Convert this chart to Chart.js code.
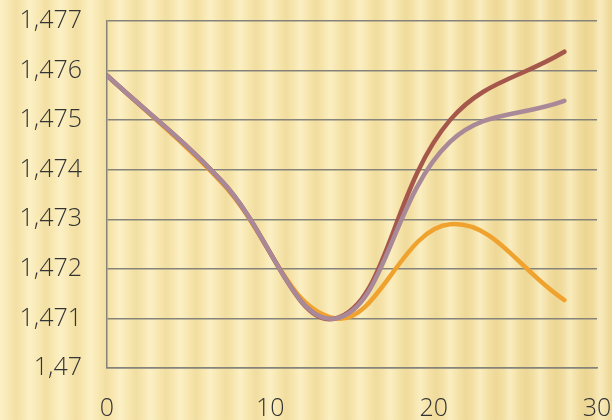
<!DOCTYPE html>
<html>
<head>
<meta charset="utf-8">
<script src="https://cdn.jsdelivr.net/npm/chart.js@4/dist/chart.umd.min.js"></script>
<style>
  html, body { margin: 0; padding: 0; overflow: hidden; }
  body {
    width: 612px; height: 420px;
    background:
      repeating-linear-gradient(90deg,
        rgba(255,248,215,0.55) 0px,
        rgba(255,248,215,0.0) 9px,
        rgba(215,185,100,0.18) 16px,
        rgba(255,248,215,0.0) 23px,
        rgba(255,248,215,0.55) 30px),
      linear-gradient(90deg, #F8E8B2 0%, #F6E4AA 60%, #F0DB9C 100%);
  }
  #wrap { position: absolute; left: 0; top: 0; width: 612px; height: 420px; }
</style>
</head>
<body>
<div id="wrap"><canvas id="c" width="612" height="420"></canvas></div>
<script>
const xValues = [0, 7, 14, 21, 28];
const orangeSeries = [1.4759, 1.47375, 1.4710, 1.4729, 1.47137];
const brownSeries  = [1.4759, 1.47378, 1.4710, 1.4750, 1.47638];
const mauveSeries  = [1.4759, 1.47378, 1.4710, 1.47456, 1.47539];
const yTickLabels = ['1,47', '1,471', '1,472', '1,473', '1,474', '1,475', '1,476', '1,477'];
const xTickLabels = ['0', '10', '20', '30'];

const toPts = (arr) => arr.map((v, i) => ({ x: xValues[i], y: v }));

const gridColor = '#85837a';
const tickFont = { family: 'Open Sans', size: 25, weight: 300 };

new Chart(document.getElementById('c'), {
  type: 'line',
  data: {
    datasets: [
      { data: toPts(orangeSeries), borderColor: '#F0A22E', borderWidth: 4.5, order: 2 },
      { data: toPts(brownSeries), borderColor: '#A5574C', borderWidth: 4.5, order: 1 },
      { data: toPts(mauveSeries), borderColor: '#A98898', borderWidth: 4.5, order: 0 }
    ]
  },
  options: {
    responsive: false,
    devicePixelRatio: 1,
    animation: false,
    layout: { padding: { top: 21, right: 15, left: 0, bottom: 0 } },
    elements: {
      point: { radius: 0, hoverRadius: 0 },
      line: { tension: 0.4, borderCapStyle: 'round', borderJoinStyle: 'round', fill: false }
    },
    plugins: { legend: { display: false }, tooltip: { enabled: false } },
    scales: {
      x: {
        type: 'linear', min: 0, max: 30,
        grid: { display: false, drawTicks: false },
        border: { display: true, color: gridColor, width: 1.5 },
        ticks: {
          stepSize: 10,
          maxRotation: 0,
          padding: 26,
          color: '#333333',
          font: tickFont,
          callback: (v) => xTickLabels[Math.round(v / 10)]
        },
        afterFit: (s) => { s.height = 52; s.paddingLeft = 0; s.paddingRight = 0; }
      },
      y: {
        min: 1.47, max: 1.477,
        grid: { color: gridColor, lineWidth: 1.5, drawTicks: false },
        border: { display: true, color: gridColor, width: 1.5 },
        ticks: {
          stepSize: 0.001,
          padding: 25,
          color: '#333333',
          font: tickFont,
          callback: (v, i) => yTickLabels[i]
        },
        afterFit: (s) => { s.width = 107; s.paddingTop = 0; s.paddingBottom = 0; }
      }
    }
  }
});
</script>
</body>
</html>
